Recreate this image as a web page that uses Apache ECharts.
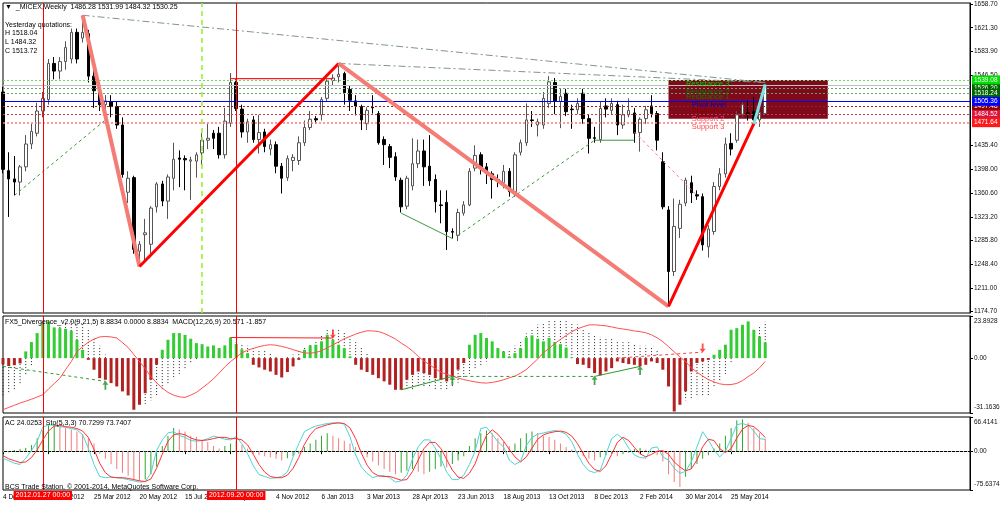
<!DOCTYPE html>
<html><head><meta charset="utf-8">
<script src="https://cdn.jsdelivr.net/npm/echarts@6/dist/echarts.min.js"></script>
<style>html,body{margin:0;padding:0;background:#fff;}#c{width:1000px;height:507px;}</style>
</head><body><div id="c"></div><script>
const FONT = 'Liberation Sans, Arial, sans-serif';

// ---------- data ----------
const xTickLabels = ['4 Dec 2011','29 Jan 2012','25 Mar 2012','20 May 2012','15 Jul 2012','9 Sep 2012','4 Nov 2012','6 Jan 2013','3 Mar 2013','28 Apr 2013','23 Jun 2013','18 Aug 2013','13 Oct 2013','8 Dec 2013','2 Feb 2014','30 Mar 2014','25 May 2014'];
const priceTicks = [1658.70,1621.30,1583.90,1546.50,1435.40,1398.00,1360.60,1323.20,1285.80,1248.40,1211.00,1174.70];
const macdTicks = [23.8928, 0, -31.1636];
const acTicks = [66.4141, 0, -75.6374];

// weekly bars: [open, high, low, close]
const ohlc = [
[1520,1528,1392,1398],[1396,1425,1323,1383],[1383,1419,1357,1378],[1378,1405,1357,1402],[1402,1452,1395,1438],
[1438,1470,1430,1458],[1455,1503,1450,1490],[1490,1520,1480,1510],[1508,1572,1500,1565],[1565,1575,1540,1553],
[1553,1575,1540,1568],[1568,1600,1555,1590],[1572,1620,1565,1614],[1614,1620,1565,1572],[1605,1641,1598,1614],
[1612,1618,1535,1545],[1545,1555,1495,1522],[1522,1530,1490,1500],[1500,1515,1485,1506],[1505,1515,1480,1497],
[1497,1505,1462,1468],[1468,1480,1385,1390],[1362,1395,1345,1384],[1385,1388,1265,1272],[1269,1285,1245,1280],
[1295,1320,1255,1298],[1280,1340,1265,1337],[1339,1378,1330,1375],[1375,1380,1340,1348],[1348,1390,1320,1386],
[1384,1440,1365,1414],[1416,1428,1370,1414],[1415,1420,1365,1413],[1411,1418,1350,1413],[1411,1425,1385,1421],
[1424,1455,1405,1444],[1444,1470,1430,1447],[1455,1460,1430,1447],[1455,1465,1415,1421],[1421,1495,1415,1474],
[1471,1550,1465,1535],[1535,1540,1490,1494],[1493,1500,1448,1457],[1457,1478,1440,1473],[1476,1482,1440,1445],
[1445,1484,1423,1456],[1457,1462,1425,1434],[1430,1445,1420,1437],[1437,1442,1392,1403],[1403,1408,1360,1384],
[1385,1420,1380,1415],[1412,1422,1395,1417],[1412,1450,1405,1440],[1440,1475,1435,1464],[1464,1490,1460,1477],
[1478,1482,1470,1476],[1484,1512,1475,1508],[1510,1540,1505,1537],[1538,1548,1530,1542],[1544,1565,1535,1548],
[1549,1552,1500,1519],[1524,1530,1490,1507],[1506,1515,1483,1498],[1497,1500,1460,1476],[1470,1496,1460,1491],
[1496,1515,1486,1495],[1486,1490,1437,1440],[1445,1450,1405,1437],[1434,1438,1400,1417],[1418,1425,1380,1386],
[1381,1385,1330,1339],[1340,1388,1335,1384],[1372,1447,1365,1407],[1407,1445,1400,1427],[1427,1445,1372,1402],
[1403,1452,1372,1380],[1382,1390,1330,1347],[1342,1365,1313,1341],[1346,1365,1271,1300],[1300,1305,1289,1299],
[1294,1336,1285,1330],[1329,1348,1325,1342],[1342,1400,1340,1395],[1400,1436,1395,1420],[1421,1425,1390,1399],
[1402,1408,1375,1392],[1391,1395,1352,1382],[1382,1390,1370,1381],[1377,1405,1368,1395],[1395,1400,1355,1363],
[1363,1425,1355,1421],[1425,1445,1420,1440],[1440,1502,1435,1476],[1476,1490,1465,1475],[1468,1478,1450,1473],
[1468,1520,1462,1510],[1502,1545,1495,1536],[1535,1542,1485,1505],[1505,1525,1463,1513],[1518,1525,1482,1489],
[1493,1500,1462,1492],[1492,1510,1485,1502],[1518,1525,1470,1478],[1478,1485,1423,1447],[1448,1465,1440,1447],
[1445,1505,1440,1494],[1498,1510,1480,1493],[1491,1510,1485,1502],[1500,1506,1452,1468],[1468,1500,1462,1484],
[1484,1510,1480,1491],[1487,1495,1440,1455],[1456,1480,1426,1477],[1478,1498,1470,1492],[1498,1515,1480,1486],
[1486,1490,1428,1444],[1410,1425,1335,1339],[1334,1340,1182,1237],[1237,1352,1230,1308],[1305,1350,1290,1343],
[1345,1385,1340,1381],[1377,1388,1345,1361],[1358,1365,1350,1356],[1355,1360,1270,1279],[1276,1310,1259,1304],
[1300,1378,1295,1371],[1371,1400,1365,1391],[1391,1448,1385,1438],[1439,1455,1420,1430],[1444,1490,1440,1484],
[1485,1505,1480,1500],[1487,1507,1475,1486],[1489,1512,1470,1476],[1476,1505,1465,1488],[1486.28,1531.99,1484.32,1530.25]
];

const pivotLevels = [1526.20, 1497.48, 1539.08, 1518.24, 1505.36, 1484.52, 1471.64];
const pivotNames  = ['Resistance 2','Support 1','Resistance 3','Resistance 1','Pivot level','Support 2','Support 3'];
const bidPrice = 1530.25;
const rectTop = 1539.08, rectBottom = 1478;

const zigzagPoints = [[14,1641],[24,1245],[59,1565],[117,1182],[132,1470],[134,1532]];
const trendLine1 = [[14,1641],[134,1535]];
const trendLine2 = [[59,1565],[134,1535]];
const highLineRed = [[40,1541],[58,1541]];
const priceDivGreenDash1 = [[2,1357],[18,1476]];
const priceDivGreen1 = [[70,1329],[79,1289]];
const priceDivGreenDash2 = [[80,1294],[104,1444]];
const priceDivGreen2 = [[104,1444],[111,1444]];
const priceDivRedDash = [[111,1457],[122,1357]];

const fx5 = [
-3.5,-4.5,-4,-3,3.8,9.1,14.2,20.4,20.8,17.4,
17,16.6,15.5,10.4,4.7,-1,-6.6,-11.4,-12.3,-14.2,
-16.1,-18.9,-21.2,-29.3,-26.5,-19.9,-12.3,-3.8,4.7,10.4,
14.2,14.2,13.2,11,8.5,7.9,6.6,7.2,5.7,7.2,
11.7,8,5,2.8,-3.8,-5.3,-6.6,-7.6,-9.5,-11,
-7.9,-4.7,-1,4.7,7.2,7.6,9.5,13.2,10.4,7.6,
5.7,1,-3.8,-6.6,-7.9,-9.5,-11.4,-13.2,-15.1,-18,
-18,-12.3,-9.5,-7.6,-8.5,-9.5,-11.4,-12.3,-13.2,-10.4,
-6.6,-2.8,7.6,13.2,14.2,11.4,9.5,5.7,3.8,1,
2.8,5.7,11.7,12.9,11,9.5,11.4,9.1,7.9,6,
0.4,-3.4,-3.8,-5.7,-8.5,-9.8,-7.6,-5.7,-1.9,-2.8,
-3.4,-3.8,-4.7,-3.8,-1.9,-2.8,-6.6,-16.1,-30.3,-26.5,
-18.9,-7.6,-2.8,-1.9,-1,1.9,4.7,7.6,16.1,17,
18.9,20.8,16.1,12.3,8.8834];

const macdMain = [
-22,-20,-18,-15,-10,-5,0,6,11,15,
18,20,22,21,20,17,12,7,2,-3,
-8,-14,-20,-25,-27,-26,-24,-21,-18,-15,
-12,-9,-6,-3,-1,1,3,4,5,6,
8,9,8,7,6,5,4,3,1,0,
0.5,2,4,6,8,10,13,16,17,17,
15,12,9,6,3,0,-3,-6,-9,-13,
-17,-18,-18,-17,-17,-17,-18,-18,-18,-16,
-14,-12,-9,-6,-4,-2,0,2,4,5,
7,10,14,17,19,20,22,22,21,21,
20,19,17,15,13,12,12,11,10,9,
9,8,7,7,6,4,0,-8,-18,-22,
-24,-23,-22,-22,-21,-17,-13,-9,-3,3,
8,12,15,18,20.571];

const macdSignal = [
-29.3,-28,-26.8,-25.5,-24.5,-23.3,-22.1,-20.8,-17.5,-14.5,
-11.4,-6.5,-2,3.6,6.5,9,10.8,12,12.3,12,
11.4,8.8,6,2,-2,-6,-10.5,-14,-17,-19.5,
-21,-22,-22.3,-21,-19.5,-17,-14.5,-11.8,-8.5,-5,
-2,0.5,3,4.5,5.5,6.5,7.2,7.6,7.3,6.6,
5.8,4.8,3.8,2.9,2.8,3.2,4.2,5.8,7.5,9.2,
11,12.3,13.6,14.7,15.5,15.4,15.1,14,12.5,10.8,
8.5,6.5,4,1,-1.7,-3.8,-6,-8,-9.2,-10.3,
-11.3,-12.2,-12.9,-13.5,-14,-14.2,-13.8,-13.2,-12.3,-11.2,
-10.2,-8.5,-6.5,-3.5,-0.5,3,5.5,8.3,10.6,12.8,
15,16.6,17.8,18.8,18.9,18.6,18.3,17.7,17,16.5,
16,15.4,15,14.4,13.2,11.5,9.3,6.5,3.5,0.7,
-2,-5.5,-8,-10.2,-12.2,-13.5,-14.6,-15.1,-15,-14.4,
-12.8,-10.5,-8.4,-5.5,-1.857];

const macdDivGreenDash1 = [[0,-4.7],[18,-13.2]];
const macdDivRed1 = [[40,11.7],[58,11.4]];
const macdDivGreen1 = [[70,-18],[79,-10.4]];
const macdDivGreenDash2 = [[79,-10.4],[104,-10.4]];
const macdDivGreen2 = [[104,-10.4],[112,-4.7]];
const macdDivRedDash = [[108,0],[123,3.4]];
const upArrows = [[18,-13.2],[79,-10.4],[104,-10.4],[112,-4.7]];
const downArrows = [[58,11.4],[123,3.4]];

const ac = [
-3,-2,2,4,6,12,25,40,50,52,
48,45,42,38,33,25,15,-5,-15,-25,
-35,-42,-48,-55,-58,-55,-45,-30,10,30,
45,42,38,30,28,22,18,10,5,10,
15,20,12,5,-5,-8,-10,-12,-15,-18,
-14,-10,-5,8,15,22,30,35,30,25,
20,15,8,-5,-12,-20,-28,-35,-40,-45,
-42,-38,-35,-40,-45,-40,-35,-30,-32,-25,
-18,-10,10,25,35,40,35,25,18,10,
15,25,35,38,35,30,28,22,15,8,
3,-5,-10,-15,-18,-12,-8,-5,-10,-6,
-3,4,6,3,-2,-8,-20,-45,-60,-70,
-50,-35,-25,-15,-8,5,15,30,45,60,
62,55,45,35,24.0253];

const stochK = [
41,37,33,31,41,53,68,90,94,93,
91,90,88,86,78,57,31,12,10,11,
10,9,7,5,3,4,17,53,70,81,
83,77,74,69,68,69,72,76,74,71,
70,75,64,48,29,15,12,9,10,12,
19,43,64,83,88,92,94,96,97,97,
95,75,46,27,17,10,13,13,10,3,
5,14,40,59,70,70,57,40,19,7,
7,14,31,52,88,90,79,67,59,38,
31,36,61,74,79,81,83,85,83,79,
67,47,31,21,18,22,47,72,79,72,
57,46,42,41,57,59,43,38,25,17,
20,35,59,83,70,54,43,52,72,94,
96,93,84,72,70.7299];

const stochD = [
45,40,37,34,35,42,54,70,84,92,
93,91,90,88,84,74,55,33,18,11,
10,10,9,7,5,4,8,25,47,68,
78,80,78,73,70,69,70,72,74,74,
72,72,70,62,47,31,19,12,10,10,
14,25,42,63,78,88,91,94,96,97,
96,89,72,49,30,18,13,12,12,9,
6,7,20,38,56,66,66,56,39,22,
11,9,17,32,57,77,86,79,68,55,
43,35,43,57,71,78,81,83,84,82,
76,64,48,33,23,20,29,47,66,74,
69,58,48,43,47,52,53,47,35,27,
21,24,38,59,71,69,56,50,56,73,
87,93,91,83,73.7407];

const redVLines = [{idx:'7', label:'2012.01.27 00:00'}, {idx:'41', label:'2012.09.20 00:00'}];
const greenVLine = '35';

// ---------- layout / style ----------
const SLOTS = 171;
const categories = Array.from({length: SLOTS}, (_, i) => String(i));
const LABEL_EVERY = 8;
const pivotLineColors = {'Resistance 3':'#66dd66','Resistance 2':'#6aa36a','Resistance 1':'#6aa36a','Pivot level':'#0000ff','Support 1':'#a02020','Support 2':'#d03848','Support 3':'#ff7a7a'};
const pivotBg = {'Resistance 3':'#00dd00','Resistance 2':'#006400','Resistance 1':'#006400','Pivot level':'#0000ff','Support 1':'#8b0000','Support 2':'#dc143c','Support 3':'#ff1a1a'};
const pivotTextColor = {'Resistance 3':'#00d000','Resistance 2':'#0a7a0a','Resistance 1':'#0a7a0a','Pivot level':'#0000d0','Support 1':'#8b0000','Support 2':'#ff4a66','Support 3':'#ff4a4a'};

const txt = (size) => ({fontSize: size, fontFamily: FONT, color: '#000', fontWeight: 'normal'});
const tickInterval = (i) => i % LABEL_EVERY === 0 && (i / LABEL_EVERY) < xTickLabels.length;

function seg(points, color, width, type, xi, yi, z) {
  return {type:'line', xAxisIndex:xi, yAxisIndex:yi, data:points, symbol:'none', showSymbol:false,
    silent:true, z: z || 4, lineStyle:{color:color, width:width, type:type || 'solid'}, animation:false};
}
function vLines(xi, yi, withLabel) {
  const data = redVLines.map(v => ({xAxis: v.idx, lineStyle:{color:'#ff0000', width:1, type:'solid'},
    label: withLabel ? {show:true, position:'start', formatter:v.label, distance:1, backgroundColor:'#ff0000',
      color:'#fff', fontSize:7, fontFamily:FONT, padding:[1,2,1,2]} : {show:false}}));
  return {type:'line', xAxisIndex:xi, yAxisIndex:yi, data:[], z:6, silent:true,
    markLine:{symbol:['none','none'], silent:true, animation:false, data:data}};
}

const grids = [
  {left:3, right:30, top:3, height:310},
  {left:3, right:30, top:316, height:97},
  {left:3, right:30, top:417, height:73}
].map(g => Object.assign(g, {show:true, backgroundColor:'#fff', borderColor:'#000', borderWidth:1, containLabel:false, outerBoundsMode:'none'}));

const xAxes = [0,1,2].map(g => ({
  type:'category', gridIndex:g, data:categories, boundaryGap:false, show: g === 2,
  axisLine:{show:true, lineStyle:{color:'#000'}},
  axisTick:{show: g === 2, interval:tickInterval, length:3, lineStyle:{color:'#000'}},
  axisLabel:{show: g === 2, interval:tickInterval, align:'left', margin:4, fontSize:6.5, fontFamily:FONT, color:'#000',
    formatter:(v, i) => { const k = Number(v); return (k % LABEL_EVERY === 0 && xTickLabels[k / LABEL_EVERY]) ? xTickLabels[k / LABEL_EVERY] : ''; }},
  splitLine:{show:false}
}));

const labelRich = {
  m:{fontSize:6.5, fontFamily:FONT, color:'#111'},
  t:{fontSize:6.5, fontFamily:FONT, color:'#111', padding:[11,0,0,0]},
  b:{fontSize:6.5, fontFamily:FONT, color:'#111', padding:[0,0,11,0]}
};
function yAx(g, min, max, ticks, fmt) {
  return {type:'value', gridIndex:g, position:'right', min:min, max:max, scale:false,
    axisLine:{show:true, lineStyle:{color:'#000'}},
    axisTick:{show:true, length:3, customValues:ticks, lineStyle:{color:'#000'}},
    axisLabel:{show:true, customValues:ticks, formatter:fmt, margin:4, fontSize:6.5, fontFamily:FONT, color:'#111', hideOverlap:false, rich:labelRich},
    splitLine:{show:false}};
}
// sub-window labels: max label sits below the top edge, min label above the bottom edge
const subFmt = (ticks) => (v) => {
  if (v === 0) return '{m|0.00}';
  if (v === ticks[0]) return '{t|' + String(v) + '}';
  return '{b|' + String(v) + '}';
};
const yAxes = [
  yAx(0, 1171.6, 1660.3, priceTicks, v => v.toFixed(2)),
  yAx(1, -31.1636, 23.8928, macdTicks, subFmt(macdTicks)),
  yAx(2, -75.6374, 66.4141, acTicks, subFmt(acTicks)),
  {type:'value', gridIndex:2, min:-9.5, max:106.3, show:false, splitLine:{show:false}}
];

const series = [];
// rectangle (pivot zone)
series.push({type:'line', xAxisIndex:0, yAxisIndex:0, data:[], z:1, silent:true,
  markArea:{silent:true, itemStyle:{color:'#7e0a1c'}, data:[[{coord:[117, rectTop]}, {coord:[145, rectBottom]}]]}});
// bid line + pivot levels
series.push({type:'line', xAxisIndex:0, yAxisIndex:0, data:[], z:2, silent:true,
  markLine:{symbol:['none','none'], silent:true, animation:false,
    data:[{yAxis:bidPrice, lineStyle:{color:'#c0c0c0', width:1, type:'solid'}, label:{show:false}}].concat(
      pivotLevels.map((v, i) => ({yAxis:v,
        lineStyle:{color:pivotLineColors[pivotNames[i]], width: pivotNames[i] === 'Support 3' ? 1.5 : 1, type: pivotNames[i] === 'Pivot level' ? 'solid' : [2,2]},
        label:{show:true, position:'end', distance:2, formatter:v.toFixed(2), backgroundColor:pivotBg[pivotNames[i]],
          color:'#fff', fontSize:6.5, fontFamily:FONT, padding:[1,3,1,2]}})))}});
// vertical lines in main panel
const v0 = vLines(0, 0, false);
v0.markLine.data.push({xAxis:greenVLine, lineStyle:{color:'#99ee22', width:1.5, type:[5,4]}, label:{show:false}});
series.push(v0);
// candles
series.push({type:'candlestick', xAxisIndex:0, yAxisIndex:0, z:3, barWidth:3, animation:false, silent:true,
  data: ohlc.map(d => [d[0], d[3], d[2], d[1]]),
  itemStyle:{color:'#ffffff', color0:'#000000', borderColor:'#555555', borderColor0:'#000000', borderWidth:1}});
// zigzag legs
const legColors = ['#f47c74','#ff0000','#f47c74','#ff0000','#7fe3e3'];
const legWidths = [4,3,4,3,3];
for (let i = 0; i < zigzagPoints.length - 1; i++) {
  series.push(seg([zigzagPoints[i], zigzagPoints[i+1]], legColors[i], legWidths[i], 'solid', 0, 0, 5));
}
series.push(seg(trendLine1, '#7f9494', 1, [7,3,2,3], 0, 0));
series.push(seg(trendLine2, '#7f9494', 1, [7,3,2,3], 0, 0));
series.push(seg(highLineRed, '#ff2020', 1.2, 'solid', 0, 0));
series.push(seg(priceDivGreenDash1, '#3a9a3a', 1, [3,3], 0, 0));
series.push(seg(priceDivGreen1, '#3a9a3a', 1, 'solid', 0, 0));
series.push(seg(priceDivGreenDash2, '#3a9a3a', 1, [3,3], 0, 0));
series.push(seg(priceDivGreen2, '#3a9a3a', 1, 'solid', 0, 0));
series.push(seg(priceDivRedDash, '#f08080', 1, [3,3], 0, 0));
// pivot names
series.push({type:'line', xAxisIndex:0, yAxisIndex:0, data:[], z:7, silent:true,
  markPoint:{silent:true, animation:false, symbol:'rect', symbolSize:1, itemStyle:{color:'rgba(0,0,0,0)'},
    data: pivotLevels.map((v, i) => ({coord:[pivotNames[i].startsWith('Resistance') ? 120 : 121, v],
      label:{show:true, position:'right', distance:0, offset:[0,4], formatter:pivotNames[i],
        color:pivotTextColor[pivotNames[i]], fontSize:7.5, fontFamily:FONT}}))}});

// MACD panel
series.push(vLines(1, 1, false));
series.push({type:'custom', xAxisIndex:1, yAxisIndex:1, z:2, silent:true, animation:false,
  data: macdMain.map((v, i) => [i, v]),
  renderItem: (params, api) => {
    const p0 = api.coord([api.value(0), 0]);
    const p1 = api.coord([api.value(0), api.value(1)]);
    return {type:'line', shape:{x1:p0[0], y1:p0[1], x2:p1[0], y2:p1[1]}, style:{stroke:'#222', lineWidth:1, lineDash:[1,2]}};
  }});
series.push({type:'bar', xAxisIndex:1, yAxisIndex:1, z:3, barWidth:3, silent:true, animation:false, data:fx5,
  itemStyle:{color: p => (p.value >= 0 ? '#33cc33' : '#b22222')}});
series.push({type:'line', xAxisIndex:1, yAxisIndex:1, z:4, data:macdSignal.map((v, i) => [i, v]), symbol:'none', showSymbol:false,
  silent:true, animation:false, lineStyle:{color:'#ff5050', width:1}});
series.push(seg(macdDivGreenDash1, '#2e9a2e', 1, [3,3], 1, 1));
series.push(seg(macdDivRed1, '#ff2020', 1.2, 'solid', 1, 1));
series.push(seg(macdDivGreen1, '#2e9a2e', 1, 'solid', 1, 1));
series.push(seg(macdDivGreenDash2, '#2e9a2e', 1, [3,3], 1, 1));
series.push(seg(macdDivGreen2, '#2e9a2e', 1, 'solid', 1, 1));
series.push(seg(macdDivRedDash, '#ff4040', 1, [3,3], 1, 1));
const ARROW = 'path://M5,0L10,6L6.5,6L6.5,14L3.5,14L3.5,6L0,6Z';
series.push({type:'scatter', xAxisIndex:1, yAxisIndex:1, z:6, silent:true, animation:false, data:upArrows,
  symbol:ARROW, symbolSize:[6,9], symbolOffset:[0,4], itemStyle:{color:'#1f8f1f'}});
series.push({type:'scatter', xAxisIndex:1, yAxisIndex:1, z:6, silent:true, animation:false, data:downArrows,
  symbol:ARROW, symbolSize:[6,9], symbolRotate:180, symbolOffset:[0,-4], itemStyle:{color:'#ff2020'}});

// AC / Stochastic panel
series.push(vLines(2, 2, true));
series.push({type:'line', xAxisIndex:2, yAxisIndex:2, data:[], z:2, silent:true,
  markLine:{symbol:['none','none'], silent:true, animation:false, label:{show:false},
    data:[{yAxis:0, lineStyle:{color:'#9fd09f', width:1, type:[1,3]}}]}});
series.push({type:'bar', xAxisIndex:2, yAxisIndex:2, z:3, barWidth:1, silent:true, animation:false, data:ac,
  itemStyle:{color: p => (p.dataIndex === 0 || ac[p.dataIndex] >= ac[p.dataIndex - 1]) ? '#2fa52f' : '#f27a7a'}});
series.push({type:'line', xAxisIndex:2, yAxisIndex:3, z:4, data:stochK.map((v, i) => [i, v]), symbol:'none', showSymbol:false,
  silent:true, animation:false, lineStyle:{color:'#4fd3d3', width:1}});
series.push({type:'line', xAxisIndex:2, yAxisIndex:3, z:5, data:stochD.map((v, i) => [i, v]), symbol:'none', showSymbol:false,
  silent:true, animation:false, lineStyle:{color:'#ff3030', width:1}});

const titles = [
  {text:'\u25BC  _MICEX,Weekly  1486.28 1531.99 1484.32 1530.25', left:5, top:4, size:7},
  {text:'Yesterday quotations:', left:5, top:22, size:7},
  {text:'H 1518.04', left:5, top:30, size:7},
  {text:'L 1484.32', left:5, top:38.5, size:7},
  {text:'C 1513.72', left:5, top:47.5, size:7},
  {text:'FX5_Divergence_v2.0(9,21,5) 8.8834 0.0000 8.8834  MACD(12,26,9) 20.571 -1.857', left:5, top:319, size:7},
  {text:'AC 24.0253  Sto(5,3,3) 70.7299 73.7407', left:5, top:420, size:7},
  {text:'BCS Trade Station, \u00A9 2001-2014, MetaQuotes Software Corp.', left:5, top:484, size:7}
].map(t => ({text:t.text, left:t.left, top:t.top, padding:0, textStyle:txt(t.size), z:10}));

const chart = echarts.init(document.getElementById('c'), null, {renderer:'canvas', width:1000, height:507});
chart.setOption({
  animation:false, backgroundColor:'#fff',
  title:titles, grid:grids, xAxis:xAxes, yAxis:yAxes, series:series,
  tooltip:{show:false}
});
</script></body></html>
